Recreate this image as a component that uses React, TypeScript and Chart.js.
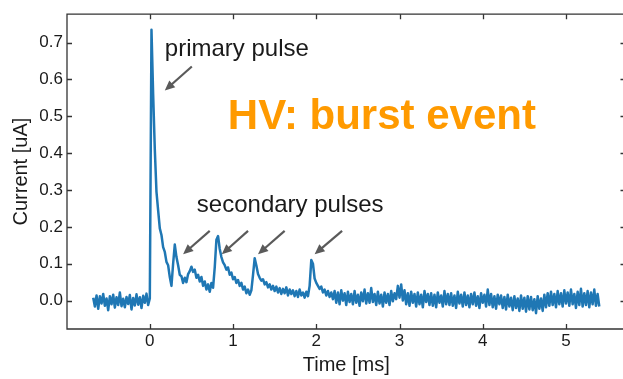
import React, { useEffect, useRef } from "react";
import { Chart, registerables } from "chart.js";

Chart.register(...registerables);

// ---- Data (current in nA = 0.001 uA, sampled every 0.02 ms) ----
const SAMPLE_STEP_MS = 0.02;

const preTriggerStart = -0.68;
const preTrigger_nA = [
  8, -16, 14, -22, 12, -8, 18, -14, 6, -26,
  12, -10, 16, -19, 9, -12, 22, -15, 5, -18,
  10, -9, 15, -24, 7, -13, 17, -11, 9, -20,
  13, -6, 19, -12,
];

const pulsesStart = 0.0;
const pulses_nA = [
  6, 735, 560, 410, 295, 245, 196, 178, 145, 132,
  105, 96, 64, 40, 100, 152, 118, 96, 70, 66,
  48, 62, 50, 72, 80, 92, 78, 84, 62, 70,
  52, 64, 40, 52, 30, 44, 24, 48, 35, 90,
  165, 175, 140, 118, 104, 96, 84, 90, 70, 76,
  58, 64, 48, 56, 40, 48, 30, 38, 20, 30,
  16, 28, 70, 115, 95, 72, 62, 54, 58, 44,
  50, 36, 44, 30, 40, 26, 38, 22, 34, 18,
  32, 20, 36, 14, 30, 18, 28, 12, 26, 10,
  30, 14, 22, 8, 24, 12, 40, 110, 100, 60,
  48, 40, 32, 38, 22, 30, 14, 26, 10, 22,
  4,
];

const tailStart = 2.22;
const tail_nA = [
  26, -6, 22, -10, 28, 0, 20, -12, 24, -4,
  18, -10, 26, -6, 16, -14, 22, -2, 30, -8,
  20, -6, 34, -4, 18, -12, 24, -8, 16, -16,
  22, -6, 18, -12, 26, -2, 20, 4, 40, 8,
  44, 0, 28, -10, 20, -14, 24, -6, 18, -16,
  22, -10, 16, -18, 26, -4, 18, -12, 20, -14,
  16, -18, 22, -6, 14, -16, 26, -10, 18, -12,
  20, -14, 14, -20, 24, -8, 16, -16, 22, -12,
  14, -18, 18, -10, 22, -14, 12, -20, 20, -6,
  16, -16, 30, -12, 18, -18, 12, -22, 16, -10,
  14, -20, 10, -24, 16, -16, 8, -26, 12, -20,
  6, -28, 14, -22, 8, -30, 12, -24, 10, -26,
  4, -34, 12, -22, 6, -28, 16, -18, 20, -14,
  24, -12, 18, -18, 26, -10, 20, -16, 28, -8,
  22, -14, 30, -10, 18, -20, 24, -12, 32, -16,
  20, -12, 26, -18, 22, -10, 30, -14, 18, -16,
];

const xTickValues = [0, 1, 2, 3, 4, 5];
const yTickValues = [0, 0.1, 0.2, 0.3, 0.4, 0.5, 0.6, 0.7];
const xTitle = "Time [ms]";
const yTitle = "Current [uA]";

const primaryLabel = "primary pulse";
const secondaryLabel = "secondary pulses";
const eventLabel = "HV: burst event";

// Annotation anchors in data coordinates (ms, uA)
const primaryLabelAt = { x: 0.18, y: 0.664 };
const secondaryLabelAt = { x: 0.565, y: 0.2415 };
const eventLabelAt = { x: 0.9375, y: 0.4646 };
const primaryArrow = { from: { x: 0.505, y: 0.635 }, to: { x: 0.18, y: 0.57 } };
const secondaryArrows = [
  { from: { x: 0.72, y: 0.189 }, to: { x: 0.4, y: 0.126 } },
  { from: { x: 1.18, y: 0.189 }, to: { x: 0.865, y: 0.126 } },
  { from: { x: 1.62, y: 0.189 }, to: { x: 1.3, y: 0.126 } },
  { from: { x: 2.31, y: 0.189 }, to: { x: 1.98, y: 0.126 } },
];

const FONT = "'Liberation Sans', Arial, Helvetica, sans-serif";
const LINE_COLOR = "#1f77b4";
const TEXT_COLOR = "#1a1a1a";
const ARROW_COLOR = "#5a5a5a";
const ORANGE = "#ff9a00";

function toPoints(start: number, values: number[]) {
  return values.map((v, i) => ({ x: +(start + i * SAMPLE_STEP_MS).toFixed(4), y: v / 1000 }));
}

function drawArrow(ctx: CanvasRenderingContext2D, x1: number, y1: number, x2: number, y2: number) {
  const ang = Math.atan2(y2 - y1, x2 - x1);
  const headLen = 10;
  const headHalf = 4.5;
  const bx = x2 - Math.cos(ang) * headLen;
  const by = y2 - Math.sin(ang) * headLen;
  ctx.save();
  ctx.strokeStyle = ARROW_COLOR;
  ctx.fillStyle = ARROW_COLOR;
  ctx.lineWidth = 2.2;
  ctx.beginPath();
  ctx.moveTo(x1, y1);
  ctx.lineTo(bx + Math.cos(ang) * 1, by + Math.sin(ang) * 1);
  ctx.stroke();
  ctx.beginPath();
  ctx.moveTo(x2, y2);
  ctx.lineTo(bx - Math.sin(ang) * headHalf, by + Math.cos(ang) * headHalf);
  ctx.lineTo(bx + Math.sin(ang) * headHalf, by - Math.cos(ang) * headHalf);
  ctx.closePath();
  ctx.fill();
  ctx.restore();
}

const framePlugin = {
  id: "frameAndNotes",
  afterDatasetsDraw(chart: any) {
    const { ctx, chartArea, scales } = chart;
    const xs = scales.x;
    const ys = scales.y;
    const { left, right, top, bottom } = chartArea;
    ctx.save();
    ctx.strokeStyle = "#333";
    ctx.lineWidth = 1.3;
    ctx.beginPath();
    ctx.rect(left, top, right - left, bottom - top);
    ctx.stroke();
    const tl = 5;
    ctx.beginPath();
    for (const v of xTickValues) {
      const px = Math.round(xs.getPixelForValue(v)) + 0.5;
      ctx.moveTo(px, bottom);
      ctx.lineTo(px, bottom - tl);
      ctx.moveTo(px, top);
      ctx.lineTo(px, top + tl);
    }
    for (const v of yTickValues) {
      const py = Math.round(ys.getPixelForValue(v)) + 0.5;
      ctx.moveTo(left, py);
      ctx.lineTo(left + tl, py);
      ctx.moveTo(right, py);
      ctx.lineTo(right - tl, py);
    }
    ctx.stroke();

    const P = (p: { x: number; y: number }) => [xs.getPixelForValue(p.x), ys.getPixelForValue(p.y)];

    ctx.fillStyle = TEXT_COLOR;
    ctx.textBaseline = "alphabetic";
    ctx.textAlign = "left";
    ctx.font = `24px ${FONT}`;
    let [tx, ty] = P(primaryLabelAt);
    ctx.fillText(primaryLabel, tx, ty);
    [tx, ty] = P(secondaryLabelAt);
    ctx.fillText(secondaryLabel, tx, ty);

    ctx.fillStyle = ORANGE;
    ctx.font = `bold 42px ${FONT}`;
    [tx, ty] = P(eventLabelAt);
    ctx.fillText(eventLabel, tx, ty);

    for (const a of [primaryArrow, ...secondaryArrows]) {
      const [x1, y1] = P(a.from);
      const [x2, y2] = P(a.to);
      drawArrow(ctx, x1, y1, x2, y2);
    }
    ctx.restore();
  },
};

export default function App() {
  const ref = useRef<HTMLCanvasElement | null>(null);

  useEffect(() => {
    if (!ref.current) return;
    const data = [
      ...toPoints(preTriggerStart, preTrigger_nA),
      ...toPoints(pulsesStart, pulses_nA),
      ...toPoints(tailStart, tail_nA),
    ];
    const chart = new Chart(ref.current, {
      type: "line",
      data: {
        datasets: [
          {
            data,
            borderColor: LINE_COLOR,
            borderWidth: 2.5,
            borderJoinStyle: "round",
            pointRadius: 0,
            tension: 0,
            fill: false,
          },
        ],
      },
      options: {
        animation: false,
        responsive: false,
        devicePixelRatio: 1,
        events: [],
        layout: { autoPadding: false, padding: { left: 0, top: 5, right: 4.5, bottom: 0 } },
        plugins: { legend: { display: false }, tooltip: { enabled: false } },
        scales: {
          x: {
            type: "linear",
            min: -0.995,
            max: 5.715,
            grid: { display: false, drawTicks: false },
            border: { display: false },
            afterBuildTicks: (s: any) => {
              s.ticks = xTickValues.map((v) => ({ value: v }));
            },
            afterFit: (s: any) => {
              s.height = 50;
            },
            ticks: {
              font: { family: FONT, size: 17 },
              color: TEXT_COLOR,
              padding: 2,
              maxRotation: 0,
              autoSkip: false,
              callback: (v: any) => String(v),
            },
            title: {
              display: true,
              text: xTitle,
              font: { family: FONT, size: 20 },
              color: TEXT_COLOR,
              padding: { top: 0, bottom: 2 },
            },
          },
          y: {
            type: "linear",
            min: -0.077,
            max: 0.777,
            grid: { display: false, drawTicks: false },
            border: { display: false },
            afterBuildTicks: (s: any) => {
              s.ticks = yTickValues.map((v) => ({ value: v }));
            },
            afterFit: (s: any) => {
              s.width = 67;
            },
            ticks: {
              font: { family: FONT, size: 17 },
              color: TEXT_COLOR,
              padding: 4,
              autoSkip: false,
              callback: (v: any) => Number(v).toFixed(1),
            },
            title: {
              display: true,
              text: yTitle,
              font: { family: FONT, size: 20 },
              color: TEXT_COLOR,
              padding: { top: 9, bottom: 0 },
            },
          },
        },
      },
      plugins: [framePlugin],
    } as any);
    return () => chart.destroy();
  }, []);

  return (
    <div
      style={{
        position: "fixed",
        left: 0,
        top: 0,
        width: 623,
        height: 379,
        overflow: "hidden",
        background: "#fff",
      }}
    >
      <canvas ref={ref} width={630} height={379} style={{ display: "block", width: 630, height: 379 }} />
    </div>
  );
}
